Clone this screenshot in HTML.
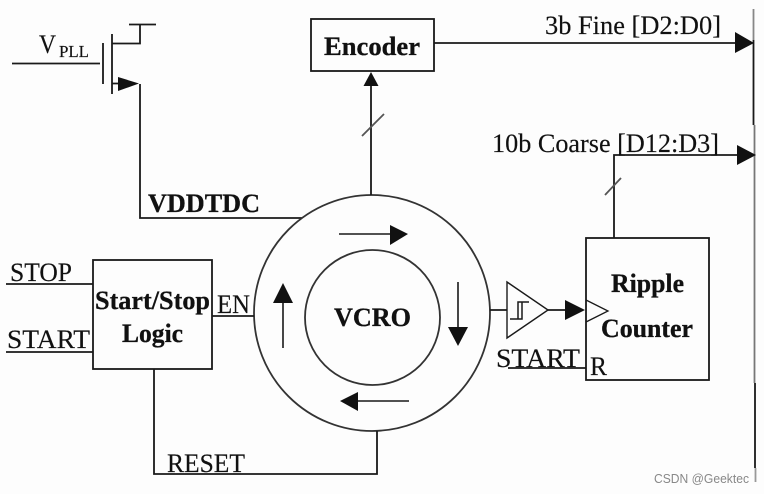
<!DOCTYPE html>
<html><head><meta charset="utf-8"><style>
html,body{margin:0;padding:0;background:#fff}
svg{display:block}
text{font-family:"Liberation Serif",serif;fill:#111}
.r{font-size:26px;stroke:#111;stroke-width:.15px}
.b{font-size:26px;font-weight:bold;stroke:#111;stroke-width:.3px}
</style></head><body>
<svg width="764" height="494" viewBox="0 0 764 494" xmlns="http://www.w3.org/2000/svg">
<rect width="764" height="494" fill="#fdfdfd"/>
<g style="filter:blur(.35px)">
<g fill="none" stroke="#1a1a1a" stroke-width="1.8">
<!-- transistor -->
<path d="M12 63.5H100M103 43V84M112 34V94M112 43.5H140V24.5M129 24.5H156M112 83.5H120"/>
<path d="M140 84V218H302"/>
<!-- circles -->
<circle cx="372" cy="313" r="118" stroke="#333"/>
<circle cx="372.5" cy="317.5" r="67.5" stroke="#333"/>
<!-- encoder -->
<rect x="311" y="19" width="123" height="52"/>
<path d="M371 195V84M434 43H737"/>
<path d="M362 136L384 114" stroke="#555"/>
<!-- coarse -->
<path d="M614 238V155H739"/>
<path d="M605 195L621 178" stroke="#555"/>
<!-- logic -->
<rect x="93" y="260" width="119" height="109"/>
<path d="M6 284H93M6 352H93M212 316H254M154 369V474H377V431"/>
<!-- counter -->
<rect x="586" y="238" width="123" height="142"/>
<path d="M586 300L608 311L586 322" stroke-width="1.3"/>
<path d="M490 310H507M548 310H566M508 368H586"/>
<path d="M507 282L548 310L507 338Z" stroke-width="1.4"/>
<path d="M510 319H522V302M518 319V302H529" stroke-width="1.5"/>
<!-- circle arrows -->
<path d="M339 234H392M458 282V329M409 401H357M283 348V301" stroke-width="1.6"/>
<!-- bus -->
<path d="M753.5 9V40" stroke="#888"/>
<path d="M753.5 40V125"/>
<path d="M754.5 125V383" stroke="#777"/>
<path d="M755 383V468"/>
<path d="M755.5 468V482" stroke="#999"/>
</g>
<g fill="#111" stroke="none">
<path d="M118 77L139 83.5L118 91Z"/>
<path d="M371 72L378.5 86H363.5Z"/>
<path d="M735 32L754 43L735 53Z"/>
<path d="M737 145L756 155L737 165Z"/>
<path d="M565 300L585 310L565 320Z"/>
<path d="M390 225L408 234L390 245Z"/>
<path d="M448 327H468L458 346Z"/>
<path d="M358 392V411L340 401Z"/>
<path d="M273 303H293L283 283Z"/>
</g>
<text class="r" x="39" y="53" textLength="17" lengthAdjust="spacingAndGlyphs">V</text>
<text x="59" y="57" style="font-size:17px;stroke:#111;stroke-width:.15px" textLength="30" lengthAdjust="spacingAndGlyphs">PLL</text>
<text class="b" x="148" y="212" textLength="112" lengthAdjust="spacingAndGlyphs">VDDTDC</text>
<text class="b" x="324" y="55" textLength="96" lengthAdjust="spacingAndGlyphs">Encoder</text>
<text class="r" x="545" y="34" textLength="176" lengthAdjust="spacingAndGlyphs">3b Fine [D2:D0]</text>
<text class="r" x="492" y="152" textLength="227" lengthAdjust="spacingAndGlyphs">10b Coarse [D12:D3]</text>
<text class="r" x="10" y="281" textLength="62" lengthAdjust="spacingAndGlyphs">STOP</text>
<text class="r" x="7" y="348" textLength="83" lengthAdjust="spacingAndGlyphs">START</text>
<text class="r" x="217" y="313" textLength="33" lengthAdjust="spacingAndGlyphs">EN</text>
<text class="r" x="167" y="472" textLength="78" lengthAdjust="spacingAndGlyphs">RESET</text>
<text class="b" x="95" y="309" textLength="115" lengthAdjust="spacingAndGlyphs">Start/Stop</text>
<text class="b" x="122" y="342" textLength="61" lengthAdjust="spacingAndGlyphs">Logic</text>
<text class="b" x="334" y="326" textLength="77" lengthAdjust="spacingAndGlyphs">VCRO</text>
<text class="b" x="611" y="292" textLength="73" lengthAdjust="spacingAndGlyphs">Ripple</text>
<text class="b" x="601" y="337" textLength="92" lengthAdjust="spacingAndGlyphs">Counter</text>
<text class="r" x="496" y="367" textLength="84" lengthAdjust="spacingAndGlyphs">START</text>
<text class="r" x="590" y="375" textLength="17" lengthAdjust="spacingAndGlyphs">R</text>
<text x="654" y="483" textLength="95" lengthAdjust="spacingAndGlyphs" style="font-family:'Liberation Sans',sans-serif;font-size:13px;fill:#888">CSDN @Geektec</text>
</g>
</svg>
</body></html>
